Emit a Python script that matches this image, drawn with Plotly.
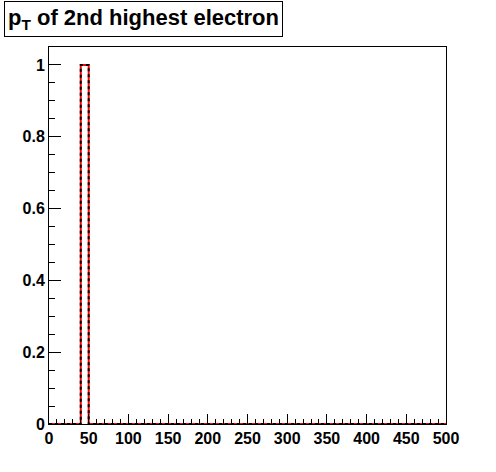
import plotly.graph_objects as go

# histogram: 50 bins of width 10 over 0..500
bin_edges = list(range(0, 510, 10))
counts = [0, 0, 0, 0, 1] + [0] * 45

# step outline (ROOT-style histogram)
xs = []
ys = []
for i, c in enumerate(counts):
    xs += [bin_edges[i], bin_edges[i + 1]]
    ys += [c, c]

W, H = 496, 472
L, R, T, B = 49, 50, 47, 48
pw = W - L - R
ph = H - T - B

fig = go.Figure()
fig.add_trace(go.Scatter(x=xs, y=ys, mode="lines",
                         line=dict(color="#ff0000", width=2), showlegend=False))
fig.add_trace(go.Scatter(x=xs, y=ys, mode="lines",
                         line=dict(color="black", width=2, dash="3px,3px"), showlegend=False))

axis_font = dict(family="Liberation Sans, Arial", size=16, color="black", weight="bold")

fig.update_xaxes(
    range=[0, 500], showline=True, linecolor="black", linewidth=1, mirror=True,
    ticks="inside", ticklen=10, tickwidth=1, tickcolor="black", dtick=50, tick0=0,
    minor=dict(ticks="inside", ticklen=5, dtick=10, tickcolor="black"),
    showgrid=False, zeroline=False, tickfont=axis_font,
)
fig.update_yaxes(
    range=[0, 1.05], showline=True, linecolor="black", linewidth=1, mirror=True,
    ticks="inside", ticklen=12, tickwidth=1, tickcolor="black", dtick=0.2, tick0=0,
    minor=dict(ticks="inside", ticklen=6, dtick=0.05, tickcolor="black"),
    showgrid=False, zeroline=False, tickfont=axis_font,
)

fig.add_annotation(
    text="<b>p<sub>T</sub> of 2nd highest electron</b>",
    xref="paper", yref="paper",
    x=(4 - L) / pw, y=(H - B - 1) / ph,
    xanchor="left", yanchor="top", showarrow=False,
    font=dict(family="Liberation Sans, Arial", size=22, color="black"),
    bordercolor="black", borderwidth=1, borderpad=3, bgcolor="white",
)

fig.update_layout(
    width=W, height=H,
    margin=dict(l=L, r=R, t=T, b=B),
    paper_bgcolor="white", plot_bgcolor="white",
)

# drop the default body margin so the figure fills the window
fig.write_html("out.html", config={"displayModeBar": False},
               post_script="document.body.style.margin='0px';")
